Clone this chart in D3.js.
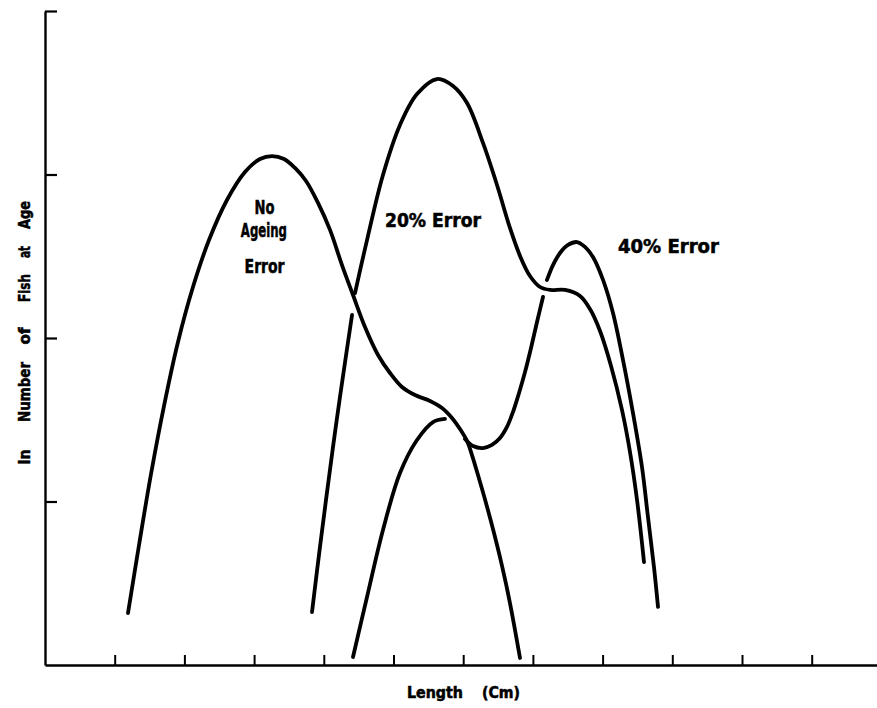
<!DOCTYPE html>
<html>
<head>
<meta charset="utf-8">
<script src="https://cdn.jsdelivr.net/npm/d3@7"></script>
<style>
  html, body { margin: 0; padding: 0; background: #fff; }
  svg { display: block; }
  text { font-family: "Liberation Sans Narrow", "DejaVu Sans Condensed", "Liberation Sans", sans-serif; font-weight: bold; fill: #000; stroke: #000; stroke-width: 0.5px; }
</style>
</head>
<body>
<svg id="chart" width="877" height="708"></svg>
<script>
// Length (cm) vs ln number of fish at age, hand-drawn style curves.
const xTicks = [10, 20, 30, 40, 50, 60, 70, 80, 90, 100, 110];
const yTicks = [1, 2, 3, 4];

// No ageing error: left mode, shoulder, then down to the axis
const noAgeingError = [
  [11.91, 0.318], [13.49, 0.734], [15.21, 1.168], [17.07, 1.584], [19.08, 1.976],
  [21.23, 2.312], [23.53, 2.599], [26.11, 2.844], [28.69, 3.015], [30.85, 3.095],
  [32.57, 3.113], [34.29, 3.095], [35.87, 3.040], [37.45, 2.960], [39.17, 2.826],
  [40.89, 2.661], [42.61, 2.446], [44.19, 2.263], [45.91, 2.067], [47.78, 1.896],
  [49.50, 1.786], [51.22, 1.700], [53.08, 1.651], [55.24, 1.615], [56.96, 1.572],
  [58.39, 1.511], [59.54, 1.443], [60.55, 1.370], [61.26, 1.284], [62.12, 1.162],
  [63.27, 0.991], [64.42, 0.807], [65.57, 0.606], [66.71, 0.379], [68.15, 0.043]
];

// Rising limb of the middle age group
const middleAgeRise = [
  [44.19, 0.049], [46.20, 0.416], [48.49, 0.826], [50.93, 1.174],
  [53.37, 1.376], [55.67, 1.486], [57.39, 1.505]
];

// 20% error: lower piece (broken where it crosses) and main body
const error20Lower = [
  [38.31, 0.324], [39.45, 0.722], [41.32, 1.333], [42.32, 1.639], [44.05, 2.141]
];
const error20Upper = [
  [44.48, 2.275], [46.20, 2.599], [48.49, 2.997], [50.93, 3.303], [53.37, 3.492],
  [56.24, 3.584], [58.54, 3.541], [60.55, 3.437], [62.84, 3.193], [64.85, 2.936],
  [66.71, 2.673], [68.15, 2.502], [69.58, 2.379], [71.02, 2.312], [72.45, 2.294],
  [74.61, 2.294], [76.76, 2.257], [78.19, 2.177], [79.63, 2.043], [81.21, 1.829],
  [82.78, 1.560], [83.93, 1.303], [84.94, 1.009], [85.94, 0.630]
];

// 40% error: trough after the kink, then the right-hand hump
const error40Dip = [
  [60.26, 1.382], [61.41, 1.339], [62.84, 1.327], [64.13, 1.346], [65.28, 1.388],
  [66.28, 1.456], [67.14, 1.547], [68.01, 1.664], [68.87, 1.792], [69.73, 1.939],
  [70.59, 2.098], [71.45, 2.251]
];
const error40Hump = [
  [72.02, 2.355], [72.88, 2.446], [73.89, 2.520], [75.04, 2.569], [76.33, 2.587],
  [77.47, 2.557], [78.62, 2.495], [80.06, 2.355], [81.49, 2.153], [82.93, 1.865],
  [84.36, 1.541], [85.65, 1.211], [86.51, 0.905], [87.37, 0.599], [87.95, 0.355]
];

const curves = [noAgeingError, middleAgeRise, error20Lower, error20Upper, error40Dip, error40Hump];

// In-plot labels: [text, x(cm), y(ln N), anchor, width]
const curveLabels = [
  ["No", 31.5, 2.76, "middle", 20],
  ["Ageing", 31.4, 2.62, "middle", 46],
  ["Error", 31.5, 2.40, "middle", 40],
  ["20% Error", 48.78, 2.678, "start", 96],
  ["40% Error", 82.2, 2.52, "start", 101]
];
const yLabelWords = [["ln", 457, 15], ["Number", 392, 60], ["of", 336, 17], ["Fish", 288, 28], ["at", 252, 12], ["Age", 215, 28]];

const svg = d3.select("#chart");
const x = d3.scaleLinear().domain([0, 120]).range([45, 881.4]);
const y = d3.scaleLinear().domain([0, 4]).range([665, 11]);

// x axis with inward ticks
const xAxis = svg.append("g")
  .attr("transform", `translate(0,${y(0)})`)
  .call(d3.axisBottom(x).tickValues(xTicks).tickSize(-10).tickSizeOuter(0).tickFormat(""));
xAxis.select(".domain").attr("stroke", "#000").attr("stroke-width", 2.6);
xAxis.selectAll(".tick line").attr("stroke", "#000").attr("stroke-width", 2);

// y axis with inward ticks
const yAxis = svg.append("g")
  .attr("transform", `translate(${x(0)},0)`)
  .call(d3.axisLeft(y).tickValues(yTicks).tickSize(-12).tickSizeOuter(0).tickFormat(""));
yAxis.select(".domain").attr("stroke", "#000").attr("stroke-width", 2.4);
yAxis.selectAll(".tick line").attr("stroke", "#000").attr("stroke-width", 2.2);

const line = d3.line()
  .x(d => x(d[0]))
  .y(d => y(d[1]))
  .curve(d3.curveCatmullRom.alpha(0.5));

svg.append("g").selectAll("path")
  .data(curves)
  .join("path")
  .attr("d", line)
  .attr("fill", "none")
  .attr("stroke", "#000")
  .attr("stroke-width", 3.8)
  .attr("stroke-linecap", "round")
  .attr("stroke-linejoin", "round");

svg.append("g").selectAll("text")
  .data(curveLabels)
  .join("text")
  .attr("x", d => x(d[1]))
  .attr("y", d => y(d[2]))
  .attr("text-anchor", d => d[3])
  .attr("font-size", 19)
  .attr("textLength", d => d[4])
  .attr("lengthAdjust", "spacingAndGlyphs")
  .text(d => d[0]);

// x axis title
svg.append("text").attr("x", 407).attr("y", 698).attr("font-size", 15)
  .attr("textLength", 56).attr("lengthAdjust", "spacingAndGlyphs").text("Length");
svg.append("text").attr("x", 482).attr("y", 698).attr("font-size", 15)
  .attr("textLength", 38).attr("lengthAdjust", "spacingAndGlyphs").text("(Cm)");

// y axis title, word by word
svg.append("g").selectAll("text")
  .data(yLabelWords)
  .join("text")
  .attr("transform", d => `translate(30,${d[1]}) rotate(-90)`)
  .attr("text-anchor", "middle")
  .attr("font-size", 15)
  .attr("textLength", d => d[2])
  .attr("lengthAdjust", "spacingAndGlyphs")
  .text(d => d[0]);
</script>
</body>
</html>
